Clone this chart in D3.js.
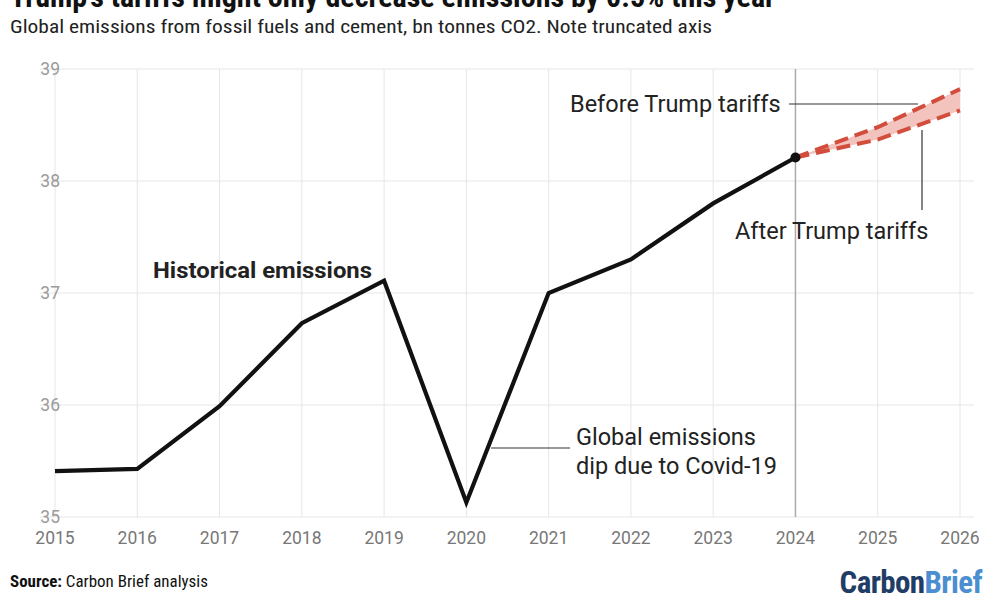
<!DOCTYPE html>
<html><head><meta charset="utf-8">
<script src="https://cdn.jsdelivr.net/npm/d3@7"></script>
<style>body{margin:0;background:#fff;} svg{display:block;}</style>
</head><body>
<svg id="c" width="1000" height="600"></svg>
<script>
const years = [2015,2016,2017,2018,2019,2020,2021,2022,2023,2024];
const historical = [35.41,35.43,35.99,36.73,37.11,35.13,37.00,37.30,37.80,38.21];
const projYears = [2024,2025,2026];
const beforeTariffs = [38.21,38.48,38.82];
const afterTariffs = [38.21,38.37,38.63];
const xTicks = [2015,2016,2017,2018,2019,2020,2021,2022,2023,2024,2025,2026];
const yTicks = [35,36,37,38,39];

const svg = d3.select("#c");
const x = d3.scaleLinear().domain([2015,2026]).range([55,960]);
const y = d3.scaleLinear().domain([35,39]).range([517,69]);
const cond = "'Liberation Sans Narrow','Roboto Condensed','Arial Narrow',sans-serif";
const rob = "Roboto,sans-serif";

// title (cut off at top, as in the reference)
svg.append("text").attr("x",10).attr("y",7).attr("font-family",cond).attr("font-weight","bold")
  .attr("font-size",30).attr("fill","#111").attr("textLength",765).attr("lengthAdjust","spacingAndGlyphs")
  .text("Trump’s tariffs might only decrease emissions by 0.5% this year");
svg.append("text").attr("x",10).attr("y",33).attr("font-family",cond)
  .attr("font-size",19).attr("fill","#222").attr("textLength",702).attr("lengthAdjust","spacingAndGlyphs")
  .text("Global emissions from fossil fuels and cement, bn tonnes CO2. Note truncated axis");

// gridlines
svg.append("g").selectAll("line").data(yTicks).join("line")
  .attr("x1",40).attr("x2",974).attr("y1",d=>y(d)).attr("y2",d=>y(d))
  .attr("stroke","#e6e6e6").attr("stroke-width",1);
svg.append("g").selectAll("line").data(xTicks).join("line")
  .attr("x1",d=>x(d)).attr("x2",d=>x(d)).attr("y1",y(39)).attr("y2",y(35))
  .attr("stroke",d=>d===2024?"#aaaaaa":"#e6e6e6").attr("stroke-width",d=>d===2024?1.5:1);

// y labels
svg.append("g").selectAll("text").data(yTicks).join("text")
  .attr("x",60).attr("y",d=>y(d)+6).attr("text-anchor","end")
  .attr("font-family",rob).attr("font-size",17.5).attr("fill","#9a9a9a").text(d=>d);
// x labels
svg.append("g").selectAll("text").data(xTicks).join("text")
  .attr("x",d=>x(d)).attr("y",544).attr("text-anchor","middle")
  .attr("font-family",rob).attr("font-size",17.5).attr("fill","#777").text(d=>d);

// projection band
const band = d3.area().x((d,i)=>x(projYears[i])).y0((d,i)=>y(afterTariffs[i])).y1(d=>y(d));
svg.append("path").datum(beforeTariffs).attr("d",band).attr("fill","#f2c4bd");
const pl = d3.line().x((d,i)=>x(projYears[i])).y(d=>y(d));
[beforeTariffs,afterTariffs].forEach(s=>{
  svg.append("path").datum(s).attr("d",pl).attr("fill","none").attr("stroke","#d34d3d")
    .attr("stroke-width",4).attr("stroke-dasharray","14,7");
});

// historical line
const hl = d3.line().x((d,i)=>x(years[i])).y(d=>y(d));
svg.append("path").datum(historical).attr("d",hl).attr("fill","none").attr("stroke","#111")
  .attr("stroke-width",4.2).attr("stroke-linejoin","miter");
svg.append("circle").attr("cx",x(2024)).attr("cy",y(38.21)).attr("r",5).attr("fill","#111");

// annotations
svg.append("text").attr("x",153).attr("y",278).attr("font-family",rob).attr("font-weight","bold")
  .attr("font-size",22).attr("fill","#222").attr("textLength",219).attr("lengthAdjust","spacingAndGlyphs").text("Historical emissions");

svg.append("line").attr("x1",x(2020.3)).attr("x2",570).attr("y1",448).attr("y2",448).attr("stroke","#333").attr("stroke-width",1.2);
svg.append("text").attr("x",576).attr("y",445).attr("font-family",rob).attr("font-size",23.5).attr("fill","#222").text("Global emissions");
svg.append("text").attr("x",576).attr("y",474).attr("font-family",rob).attr("font-size",23.5).attr("fill","#222").text("dip due to Covid-19");

svg.append("text").attr("x",570).attr("y",112).attr("font-family",rob).attr("font-size",23.5).attr("fill","#222").text("Before Trump tariffs");
svg.append("line").attr("x1",789).attr("x2",918).attr("y1",104).attr("y2",104).attr("stroke","#333").attr("stroke-width",1.2);
svg.append("line").attr("x1",922).attr("x2",922).attr("y1",130).attr("y2",210).attr("stroke","#333").attr("stroke-width",1.2);
svg.append("text").attr("x",735).attr("y",239).attr("font-family",rob).attr("font-size",23.5).attr("fill","#222").text("After Trump tariffs");

// source
const src = svg.append("text").attr("x",10).attr("y",587).attr("font-family",cond).attr("font-size",16.5).attr("fill","#111")
  .attr("textLength",198).attr("lengthAdjust","spacingAndGlyphs");
src.append("tspan").attr("font-weight","bold").text("Source:");
src.append("tspan").text(" Carbon Brief analysis");

// logo (single text element)
const lg = svg.append("text").attr("x",982).attr("y",593).attr("text-anchor","end").attr("font-family",cond)
  .attr("font-weight","bold").attr("font-size",31).attr("letter-spacing",-0.6);
lg.append("tspan").attr("fill","#1f3d66").text("Carbon");
lg.append("tspan").attr("fill","#4b8fd0").text("Brief");
</script>
</body></html>
